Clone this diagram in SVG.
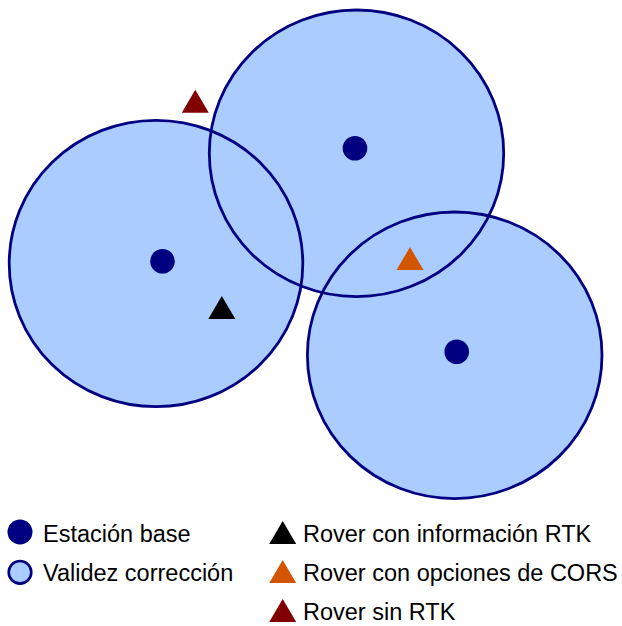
<svg xmlns="http://www.w3.org/2000/svg" width="622" height="626" viewBox="0 0 622 626">
<style>
.area{fill:#aaccff;stroke:none}
.ring{fill:none;stroke:#000080;stroke-width:2.8}
.base{fill:#000080}
.lbl{font-family:"Liberation Sans",Arial,sans-serif;font-size:23.5px;fill:#000}
</style>
<defs>
<path id="tri" d="M0,-12 L13.5,11 L-13.5,11 Z"/>
</defs>
<rect width="622" height="626" fill="#fff"/>
<g id="coverage-fills">
<ellipse class="area" cx="156" cy="263.5" rx="146.8" ry="143.2"/>
<ellipse class="area" cx="356.5" cy="153.3" rx="147.2" ry="143.3"/>
<ellipse class="area" cx="454.7" cy="355.3" rx="147.3" ry="143.3"/>
</g>
<g id="coverage-rings">
<ellipse class="ring" cx="156" cy="263.5" rx="146.8" ry="143.2"/>
<ellipse class="ring" cx="356.5" cy="153.3" rx="147.2" ry="143.3"/>
<ellipse class="ring" cx="454.7" cy="355.3" rx="147.3" ry="143.3"/>
</g>
<g id="connectors"></g>
<g id="base1"><circle class="base" cx="162.5" cy="261.3" r="12.3"/></g>
<g id="base2"><circle class="base" cx="355" cy="148.3" r="12.3"/></g>
<g id="base3"><circle class="base" cx="456.7" cy="351.7" r="12.3"/></g>
<g id="rover-rtk"><use href="#tri" x="221.8" y="308" fill="#000"/></g>
<g id="rover-cors"><use href="#tri" x="410" y="259" fill="#d45500"/></g>
<g id="rover-none"><use href="#tri" x="195.3" y="101.7" fill="#800000"/></g>
<g id="legend">
<circle class="base" cx="20" cy="532" r="12.5"/>
<text class="lbl" x="43" y="541.5">Estación base</text>
<circle cx="20" cy="572.3" r="11.3" fill="#aaccff" stroke="#000080" stroke-width="2.6"/>
<text class="lbl" x="43" y="580.5">Validez corrección</text>
<use href="#tri" x="282.7" y="533" fill="#000"/>
<text class="lbl" x="303" y="541.5">Rover con información RTK</text>
<use href="#tri" x="282.7" y="572" fill="#d45500"/>
<text class="lbl" x="303" y="580.5">Rover con opciones de CORS</text>
<use href="#tri" x="282.7" y="611" fill="#800000"/>
<text class="lbl" x="303" y="620">Rover sin RTK</text>
</g>
</svg>
